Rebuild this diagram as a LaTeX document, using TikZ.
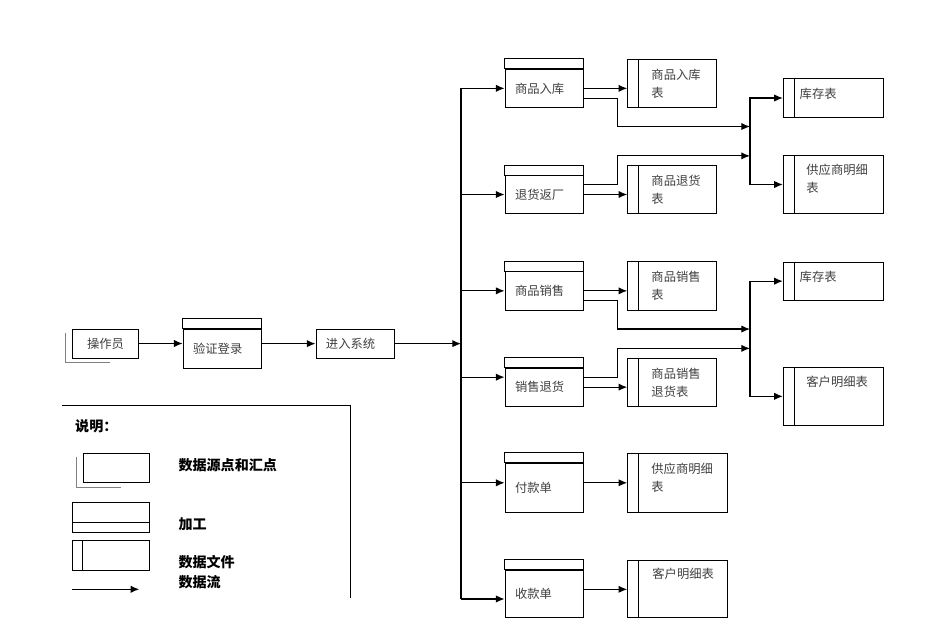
\documentclass[tikz,border=0pt]{standalone}
\usepackage{fontspec}
\setmainfont{Noto Sans CJK SC}
\usetikzlibrary{arrows.meta,calc}

\begin{document}
\begin{tikzpicture}[x=0.03cm, y=-0.03cm,
    font=\fontsize{10.5}{15.5}\selectfont,
    box/.style={line width=0.8pt},
    proc/.style={rectangle, draw, box, minimum width=2.35cm, minimum height=1.15cm,
        text width=1.75cm, align=left, inner xsep=0.3cm, text=black!75,
        append after command={\pgfextra{\draw[box] (\tikzlastnode.north west) rectangle ([yshift=0.3cm]\tikzlastnode.north east);}}},
    file/.style={rectangle, draw, box, minimum width=#1, minimum height=1.45cm,
        path picture={\draw[box] ([xshift=0.32cm]path picture bounding box.north west) -- ([xshift=0.32cm]path picture bounding box.south west);}},
    file/.default=2.67cm,
    ftext/.style={anchor=north west, inner sep=0pt, align=left, text=black!75},
    src/.style={rectangle, draw, box, minimum width=1.99cm, minimum height=0.87cm, text=black!75,
        append after command={\pgfextra{\draw[gray, line width=0.8pt] ([xshift=-0.2cm,yshift=-0.13cm]\tikzlastnode.north west) |- ([xshift=1.15cm,yshift=-0.12cm]\tikzlastnode.south west);}}},
    flow/.style={-{Latex[length=2.6mm,width=2.2mm]}, line width=1pt},
    legtext/.style={anchor=west, inner sep=0pt, font=\fontsize{12}{14}\selectfont\bfseries}]

    \useasboundingbox (0,0) rectangle (945,637);

    % Login
    \node[src] (op) at (105.5,343.5) {操作员};
    \node[proc, minimum width=2.34cm, minimum height=1.18cm] (login) at (222.3,348.65) {验证登录};
    \node[rectangle, draw, box, minimum width=2.35cm, minimum height=0.88cm, text width=1.75cm,
        align=left, inner xsep=0.3cm, text=black!75] (sys) at (355.15,343.65) {进入系统};

    % Bus
    \coordinate (busTop) at (461,88.35);
    \coordinate (busBot) at (461,599);
    \draw[line width=1pt] (busTop) -- (busBot);

    % Processes
    \node[proc] (rk) at (544.2,88.35) {商品入库};
    \node[proc, minimum height=1.13cm] (th) at (544.2,194.5) {退货返厂};
    \node[proc] (xs) at (544.2,290.85) {商品销售};
    \node[proc, minimum height=1.13cm] (xt) at (544.2,387.15) {销售退货};
    \node[proc, minimum height=1.47cm] (fk) at (544.2,487.8) {付款单};
    \node[proc, minimum height=1.42cm] (sk) at (544.2,593.65) {收款单};

    % Data files
    \node[file, label={[ftext, xshift=0.72cm, yshift=-0.3cm]north west:商品入库\\表}] (rkb) at (672.2,83.5) {};
    \node[file, label={[ftext, xshift=0.72cm, yshift=-0.3cm]north west:商品退货\\表}] (thb) at (672.2,189.15) {};
    \node[file, label={[ftext, xshift=0.72cm, yshift=-0.3cm]north west:商品销售\\表}] (xsb) at (672.2,285.85) {};
    \node[file, label={[ftext, xshift=0.72cm, yshift=-0.3cm]north west:商品销售\\退货表}] (xtb) at (672.2,382.15) {};
    \node[file=2.99cm, minimum height=1.77cm, label={[ftext, xshift=0.72cm, yshift=-0.3cm]north west:供应商明细\\表}] (gy2) at (677.5,482.8) {};
    \node[file=2.99cm, minimum height=1.72cm, label={[ftext, xshift=0.75cm, yshift=-0.26cm]north west:客户明细表}] (kh2) at (677.5,588.65) {};

    \node[file=3cm, minimum height=1.18cm, label={[ftext, xshift=0.5cm, yshift=-0.31cm]north west:库存表}] (kc1) at (833.3,98) {};
    \node[file=3cm, minimum height=1.73cm, label={[ftext, xshift=0.7cm, yshift=-0.26cm]north west:供应商明细\\表}] (gy1) at (833.3,184.5) {};
    \node[file=3cm, minimum height=1.13cm, label={[ftext, xshift=0.5cm, yshift=-0.26cm]north west:库存表}] (kc2) at (833.3,281.15) {};
    \node[file=3cm, minimum height=1.72cm, label={[ftext, xshift=0.7cm, yshift=-0.26cm]north west:客户明细表}] (kh1) at (833.3,396.35) {};

    \coordinate (hubA) at (750,141.2);
    \coordinate (hubB) at (750,338.7);

    % Arrows
    \draw[flow] (op.east) -- (op.east -| login.west);
    \draw[flow] (sys.west -| login.east) -- (sys.west);
    \draw[flow] (sys.east) -- (sys.east -| busTop);

    \foreach \p in {rk,th,xs}
        \draw[flow] (\p.west -| busTop) -- (\p.west);
    \draw[flow] ([yshift=0.3cm]xt.west -| busTop) -- ([yshift=0.3cm]xt.west);
    \draw[flow] ([yshift=0.15cm]fk.west -| busTop) -- ([yshift=0.15cm]fk.west);
    \draw[flow] ([yshift=-0.16cm]sk.west -| busTop) -- ([yshift=-0.16cm]sk.west);

    \draw[flow] (rk.east) -- (rk.east -| rkb.west);
    \draw[flow] (th.east) -- (th.east -| thb.west);
    \draw[flow] (xs.east) -- (xs.east -| xsb.west);
    \draw[flow] (xt.east) -- (xt.east -| xtb.west);
    \draw[flow] ([yshift=0.15cm]fk.east) -- ([yshift=0.15cm]fk.east -| gy2.west);
    \draw[flow] ([yshift=0.13cm]sk.east) -- ([yshift=0.13cm]sk.east -| kh2.west);

    \draw[flow] ([yshift=-0.3cm]rk.east) -- ++(1cm,0) |- ([yshift=0.44cm]hubA);
    \draw[flow] ([yshift=0.3cm]th.east) -- ++(1cm,0) |- ([yshift=-0.44cm]hubA);
    \draw[flow] ([yshift=-0.28cm]xs.east) -- ++(1cm,0) |- ([yshift=0.29cm]hubB);
    \draw[flow] ([yshift=0.3cm]xt.east) -- ++(1cm,0) |- ([yshift=-0.29cm]hubB);

    \draw[flow] (hubA) |- (kc1.west);
    \draw[flow] (hubA) |- (gy1.west);
    \draw[flow] (hubB) |- (kc2.west);
    \draw[flow] (hubB) |- (kh1.west);

    % Legend
    \draw[box] (61.7,405) -- (350,405) -- (350,598.3);
    \node[legtext] (legTitle) at (75,426.7) {说明：};
    \node[src, minimum width=1.98cm, minimum height=0.88cm] (legSrc) at (116.3,468) {};
    \node[legtext] (legSrcText) at (178.3,465) {数据源点和汇点};
    \node[rectangle, draw, box, minimum width=2.31cm, minimum height=0.9cm] (legProc) at (110.8,517.3) {};
    \draw[box] ([yshift=0.3cm]legProc.south west) -- ([yshift=0.3cm]legProc.south east);
    \node[legtext] (legProcText) at (178.3,524) {加工};
    \node[file=2.31cm, minimum height=0.9cm] (legFile) at (110.8,555) {};
    \node[legtext] (legFileText) at (178.3,562.3) {数据文件};
    \node[legtext] (legFlowText) at (178.3,581.7) {数据流};
    \coordinate (legA) at (72.3,589.3);
    \coordinate (legB) at (139.3,589.3);
    \draw[flow] (legA) -- (legB);

\end{tikzpicture}
\end{document}
